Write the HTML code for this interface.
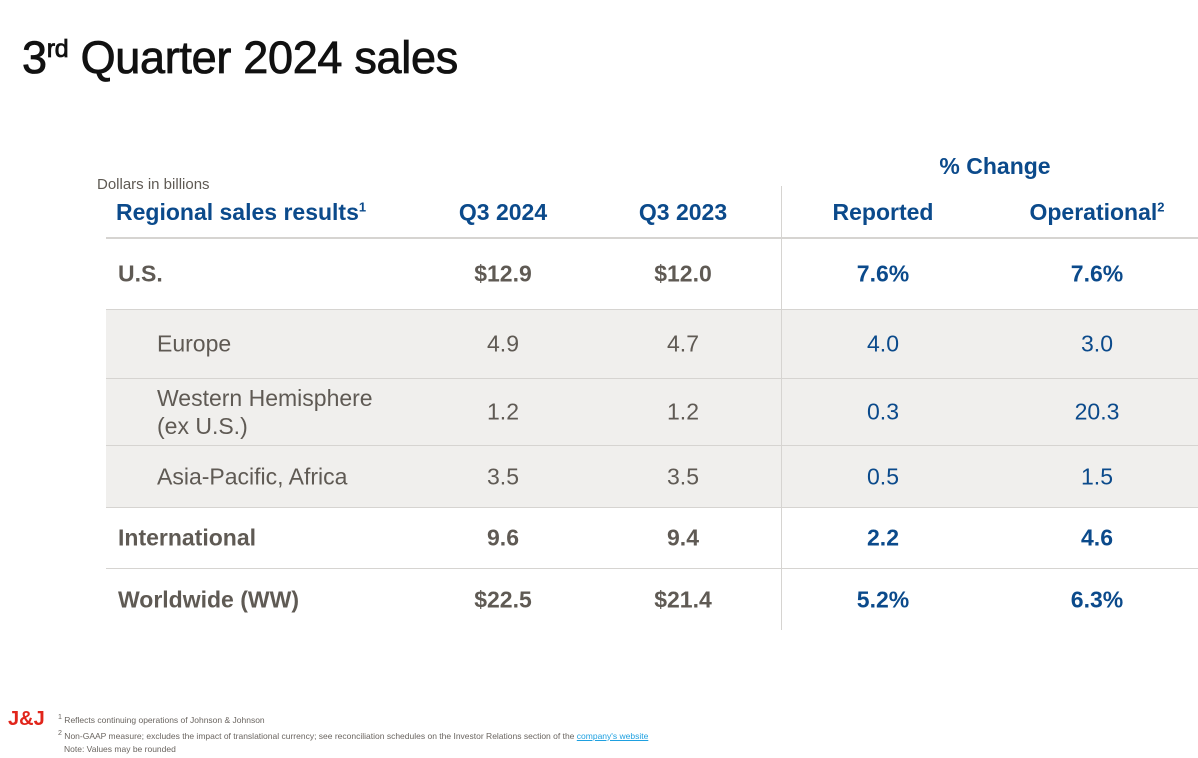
<!DOCTYPE html>
<html><head><meta charset="utf-8"><style>
body{margin:0;width:1198px;height:758px;background:#fff;position:relative;overflow:hidden;font-family:"Liberation Sans",sans-serif}
.a{position:absolute;white-space:nowrap}
.blue{color:#0b4a8b;font-weight:bold}
.g{color:#5f5a54}
.c{transform:translateX(-50%);text-align:center}
.row{position:absolute;left:106px;width:1092px;border-bottom:1.5px solid #d6d4d1}
.cell{position:absolute;top:50%;transform:translate(-50%,-50%);font-size:23px;color:#5f5a54}
.lab{position:absolute;top:50%;transform:translateY(-50%);font-size:23px;color:#5f5a54}
.b{font-weight:bold}
.p{color:#0b4a8b}
</style></head><body>
<div class="a" style="left:22px;top:32px;font-size:45px;color:#111;-webkit-text-stroke:0.8px #111;letter-spacing:-0.3px">3<sup style="font-size:25px">rd</sup> Quarter 2024 sales</div>
<div class="a" style="left:97px;top:176px;font-size:15px;color:#5f5a54">Dollars in billions</div>
<div class="a blue c" style="left:995px;top:153px;font-size:23px">% Change</div>
<div class="a blue" style="left:116px;top:199px;font-size:23px">Regional sales results<sup style="font-size:13px">1</sup></div>
<div class="a blue c" style="left:503px;top:199px;font-size:23px">Q3 2024</div>
<div class="a blue c" style="left:683px;top:199px;font-size:23px">Q3 2023</div>
<div class="a blue c" style="left:883px;top:199px;font-size:23px">Reported</div>
<div class="a blue c" style="left:1097px;top:199px;font-size:23px">Operational<sup style="font-size:13px">2</sup></div>
<div class="a" style="left:106px;top:237px;width:1092px;height:1.5px;background:#d6d4d1"></div>
<div class="a" style="left:106px;top:309px;width:1092px;height:198px;background:#f0efed"></div>

<div class="row" style="top:239px;height:70px">
<span class="lab b" style="left:12px">U.S.</span><span class="cell b" style="left:397px">$12.9</span><span class="cell b" style="left:577px">$12.0</span><span class="cell b p" style="left:777px">7.6%</span><span class="cell b p" style="left:991px">7.6%</span></div>
<div class="row" style="top:310px;height:68px">
<span class="lab" style="left:51px">Europe</span><span class="cell" style="left:397px">4.9</span><span class="cell" style="left:577px">4.7</span><span class="cell p" style="left:777px">4.0</span><span class="cell p" style="left:991px">3.0</span></div>
<div class="row" style="top:379px;height:66px">
<span class="lab" style="left:51px;line-height:28px">Western Hemisphere<br>(ex U.S.)</span><span class="cell" style="left:397px">1.2</span><span class="cell" style="left:577px">1.2</span><span class="cell p" style="left:777px">0.3</span><span class="cell p" style="left:991px">20.3</span></div>
<div class="row" style="top:446px;height:61px">
<span class="lab" style="left:51px">Asia-Pacific, Africa</span><span class="cell" style="left:397px">3.5</span><span class="cell" style="left:577px">3.5</span><span class="cell p" style="left:777px">0.5</span><span class="cell p" style="left:991px">1.5</span></div>
<div class="row" style="top:508px;height:60px">
<span class="lab b" style="left:12px">International</span><span class="cell b" style="left:397px">9.6</span><span class="cell b" style="left:577px">9.4</span><span class="cell b p" style="left:777px">2.2</span><span class="cell b p" style="left:991px">4.6</span></div>
<div class="row" style="top:569px;height:61px;border-bottom:none">
<span class="lab b" style="left:12px">Worldwide (WW)</span><span class="cell b" style="left:397px">$22.5</span><span class="cell b" style="left:577px">$21.4</span><span class="cell b p" style="left:777px">5.2%</span><span class="cell b p" style="left:991px">6.3%</span></div>
<div class="a" style="left:781px;top:186px;width:1px;height:444px;background:#d6d4d1"></div>

<div class="a" style="left:8px;top:708px;font-weight:bold;font-size:20px;color:#e1251b">J&amp;J</div>
<div class="a" style="left:58px;top:711px;font-size:8.5px;line-height:13px;color:#6a6560">
<div><sup>1</sup> Reflects continuing operations of Johnson &amp; Johnson</div>
<div><sup>2</sup> Non-GAAP measure; excludes the impact of translational currency; see reconciliation schedules on the Investor Relations section of the <span style="color:#1ea0e0;text-decoration:underline">company's website</span></div>
<div style="padding-left:6px">Note: Values may be rounded</div></div>
</body></html>
